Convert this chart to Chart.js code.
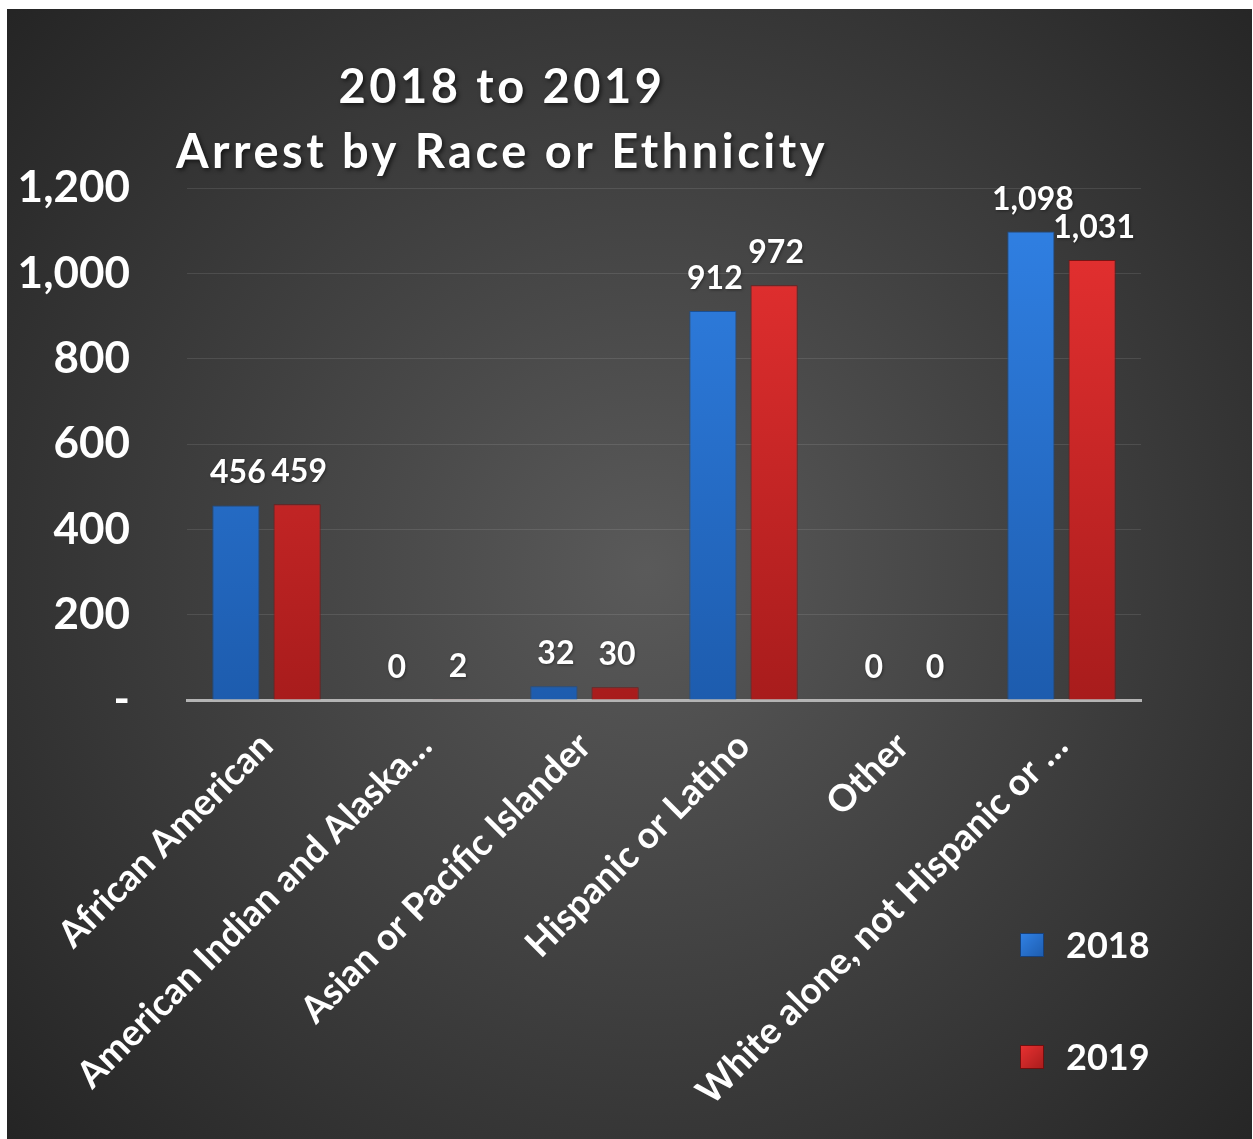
<!DOCTYPE html>
<html>
<head>
<meta charset="utf-8">
<title>Arrest by Race or Ethnicity</title>
<script src="https://cdn.jsdelivr.net/npm/chart.js@4.4.1/dist/chart.umd.min.js"></script>
<style>
  body { margin: 0; background: #fff; }
  #arrestChart { display: block; margin: 9px 0 0 7px; }
</style>
</head>
<body>
<canvas id="arrestChart" width="1245" height="1130"></canvas>
<script>
// Chart data ------
const categories = [
	'African American',
	'American Indian and Alaska…',
	'Asian or Pacific Islander',
	'Hispanic or Latino',
	'Other',
	'White alone, not Hispanic or …',
];
const arrests2018 = [456, 0, 32, 912, 0, 1098];
const arrests2019 = [459, 2, 30, 972, 0, 1031];
const seriesNames = ['2018', '2019'];
const titleLines = ['2018 to 2019', 'Arrest by Race or Ethnicity'];
const yMax = 1200;
const yStep = 200;

const FONT = 'Lato, "Open Sans", sans-serif';

// bar fill, light at the top, darker toward the axis
function barFill(top, bottom) {
	return function (c) {
		const area = c.chart.chartArea;
		if (!area) return top;
		const g = c.chart.ctx.createLinearGradient(0, area.top, 0, area.bottom);
		g.addColorStop(0, top);
		g.addColorStop(1, bottom);
		return g;
	};
}
const blueFill = barFill('#3182e6', '#1d5cae');
const redFill = barFill('#ea3232', '#a81c1c');

// dark radial background
const bgPlugin = {
	id: 'bg',
	beforeDraw(chart) {
		const { ctx, width, height } = chart;
		const g = ctx.createRadialGradient(640, 560, 0, 640, 560, 860);
		g.addColorStop(0, '#5a5a5a');
		g.addColorStop(1, '#242424');
		ctx.save();
		ctx.fillStyle = g;
		ctx.fillRect(0, 0, width, height);
		ctx.restore();
	},
};

// two-line title with shadow
const titlePlugin = {
	id: 'titleText',
	afterDraw(chart) {
		const ctx = chart.ctx;
		ctx.save();
		ctx.font = 'bold 47px ' + FONT;
		ctx.fillStyle = '#fff';
		ctx.textAlign = 'center';
		ctx.textBaseline = 'alphabetic';
		ctx.letterSpacing = '3.5px';
		ctx.shadowColor = 'rgba(0,0,0,0.6)';
		ctx.shadowBlur = 4;
		ctx.shadowOffsetX = 2;
		ctx.shadowOffsetY = 2;
		ctx.fillText(titleLines[0], 495, 94);
		ctx.fillText(titleLines[1], 495, 159);
		ctx.restore();
	},
};

// value labels above each bar
const valuePlugin = {
	id: 'values',
	afterDatasetsDraw(chart) {
		const ctx = chart.ctx;
		ctx.save();
		ctx.font = 'bold 32px ' + FONT;
		ctx.fillStyle = '#fff';
		ctx.textAlign = 'center';
		ctx.textBaseline = 'alphabetic';
		ctx.shadowColor = 'rgba(0,0,0,0.4)';
		ctx.shadowBlur = 3;
		ctx.shadowOffsetX = 1;
		ctx.shadowOffsetY = 1;
		chart.data.datasets.forEach((ds, i) => {
			chart.getDatasetMeta(i).data.forEach((bar, j) => {
				const v = ds.data[j];
				ctx.fillText(v.toLocaleString('en-US'), bar.x + 2, bar.y - 22);
			});
		});
		ctx.restore();
	},
};

// legend, stacked in the lower right corner
const legendPlugin = {
	id: 'sideLegend',
	afterDraw(chart) {
		const ctx = chart.ctx;
		const rows = [924, 1036];
		ctx.save();
		chart.data.datasets.forEach((ds, i) => {
			const y = rows[i];
			const g = ctx.createLinearGradient(1013, y, 1037, y + 24);
			g.addColorStop(0, i === 0 ? '#3182e6' : '#ea3232');
			g.addColorStop(1, i === 0 ? '#1d5cae' : '#a81c1c');
			ctx.fillStyle = g;
			ctx.fillRect(1013, y, 24, 24);
			ctx.strokeStyle = i === 0 ? '#17407a' : '#6e1010';
			ctx.lineWidth = 1;
			ctx.strokeRect(1013.5, y + 0.5, 23, 23);
			ctx.font = 'bold 36px ' + FONT;
			ctx.fillStyle = '#fff';
			ctx.textAlign = 'left';
			ctx.textBaseline = 'middle';
			ctx.fillText(ds.label, 1059, y + 13);
		});
		ctx.restore();
	},
};

function drawChart() {
	const ctx = document.getElementById('arrestChart').getContext('2d');
	new Chart(ctx, {
		type: 'bar',
		data: {
			labels: categories,
			datasets: [
				{
					label: seriesNames[0],
					data: arrests2018,
					backgroundColor: blueFill,
					borderColor: '#1a4f94',
					borderWidth: 1,
				},
				{
					label: seriesNames[1],
					data: arrests2019,
					backgroundColor: redFill,
					borderColor: '#7a1414',
					borderWidth: 1,
				},
			],
		},
		options: {
			responsive: false,
			animation: false,
			categoryPercentage: 0.77,
			barPercentage: 0.77,
			layout: {
				padding: { top: 179, right: 111, left: 0, bottom: 0 },
			},
			plugins: {
				legend: { display: false },
				title: { display: false },
				tooltip: { enabled: false },
			},
			scales: {
				x: {
					grid: { display: false },
					border: { display: true, color: '#b4b4b4', width: 3 },
					ticks: {
						color: '#fff',
						font: { family: FONT, size: 37, weight: 'bold' },
						minRotation: 45,
						maxRotation: 45,
						autoSkip: false,
						padding: 16,
					},
					afterFit(scale) {
						scale.height = 1130 - 691;
					},
				},
				y: {
					min: 0,
					max: yMax,
					grid: { color: 'rgba(255,255,255,0.1)', lineWidth: 1, drawTicks: false },
					border: { display: false },
					ticks: {
						stepSize: yStep,
						color: '#fff',
						font: { family: FONT, size: 44, weight: 'bold' },
						padding: 57,
						callback: (v) => (v === 0 ? '-' : v.toLocaleString('en-US')),
					},
					afterFit(scale) {
						scale.width = 180;
					},
				},
			},
		},
		plugins: [bgPlugin, valuePlugin, titlePlugin, legendPlugin],
	});
}

Promise.all([
	document.fonts.load('bold 36px Lato'),
	document.fonts.load('bold 46px Lato'),
]).then(drawChart, drawChart);
</script>
</body>
</html>
